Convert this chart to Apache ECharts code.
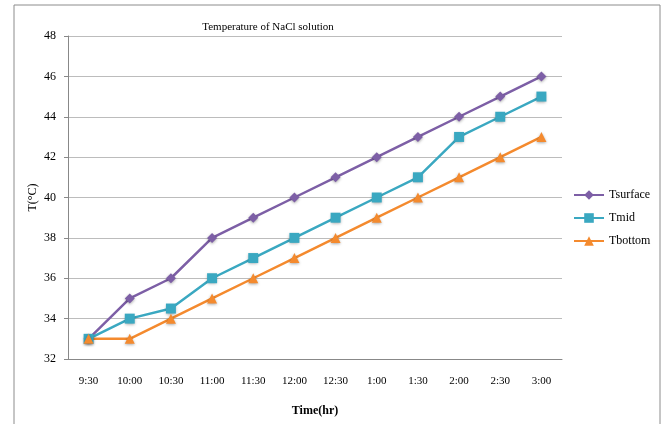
<!DOCTYPE html>
<html>
<head>
<meta charset="utf-8">
<script src="https://cdn.jsdelivr.net/npm/echarts@6/dist/echarts.min.js"></script>
<style>
  html, body { margin: 0; padding: 0; background: #fff; }
  #chart { width: 666px; height: 424px; }
</style>
</head>
<body>
<div id="chart"></div>
<script>
// time points (hr)
var times = ["9:30", "10:00", "10:30", "11:00", "11:30", "12:00", "12:30", "1:00", "1:30", "2:00", "2:30", "3:00"];
var tSurface = [33, 35, 36, 38, 39, 40, 41, 42, 43, 44, 45, 46];
var tMid = [33, 34, 34.5, 36, 37, 38, 39, 40, 41, 43, 44, 45];
var tBottom = [33, 33, 34, 35, 36, 37, 38, 39, 40, 41, 42, 43];

var font = "Liberation Serif";
var myChart = echarts.init(document.getElementById("chart"));

function lineSeries(name, data, symbol, size) {
  return {
    name: name,
    type: "line",
    data: data,
    symbol: symbol,
    symbolSize: size,
    lineStyle: { width: 2.5 },
    itemStyle: { shadowBlur: 3, shadowColor: "rgba(0,0,0,0.35)", shadowOffsetY: 1 },
    z: 3,
  };
}

myChart.setOption({
  animation: false,
  color: ["#7D5FA6", "#3AA8C1", "#F48A2E"],
  graphic: [
    {
      type: "rect",
      shape: { x: 14, y: 5, width: 646, height: 430 },
      style: { fill: "none", stroke: "#8c8c8c", lineWidth: 1 },
      silent: true,
    },
  ],
  title: {
    text: "Temperature of NaCl solution",
    left: 263,
    top: 17,
    textAlign: "center",
    textStyle: { fontFamily: font, fontSize: 11, fontWeight: "normal", color: "#000" },
  },
  legend: {
    orient: "vertical",
    left: 568,
    top: 184,
    itemGap: 11,
    itemWidth: 30,
    itemHeight: 12,
    textStyle: { fontFamily: font, fontSize: 12, color: "#000" },
    data: ["Tsurface", "Tmid", "Tbottom"],
  },
  grid: { left: 68, right: 104, top: 36, bottom: 65 },
  xAxis: {
    type: "category",
    data: times,
    name: "Time(hr)",
    nameLocation: "middle",
    nameGap: 46,
    nameMoveOverlap: false,
    nameTextStyle: { fontFamily: font, fontSize: 12, color: "#000", fontWeight: "bold" },
    axisLine: { lineStyle: { color: "#888" } },
    axisTick: { alignWithLabel: true, length: 4, lineStyle: { color: "#888" } },
    axisLabel: { fontFamily: font, fontSize: 11, color: "#000", margin: 17 },
  },
  yAxis: {
    type: "value",
    min: 32,
    max: 48,
    interval: 2,
    name: "T(°C)",
    nameLocation: "middle",
    nameGap: 29,
    nameMoveOverlap: false,
    nameTextStyle: { fontFamily: font, fontSize: 12, color: "#000" },
    axisLine: { show: true, lineStyle: { color: "#888" } },
    axisTick: { show: true, length: 4, lineStyle: { color: "#888" } },
    axisLabel: { fontFamily: font, fontSize: 12, color: "#000", margin: 12 },
    splitLine: { lineStyle: { color: "#bcbcbc" } },
  },
  series: [
    lineSeries("Tsurface", tSurface, "diamond", 10),
    lineSeries("Tmid", tMid, "rect", 10),
    lineSeries("Tbottom", tBottom, "triangle", 10),
  ],
});
</script>
</body>
</html>
